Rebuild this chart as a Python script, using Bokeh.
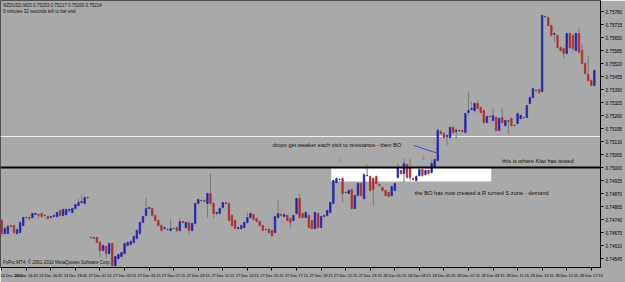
from bokeh.plotting import figure
from bokeh.models import (ColumnDataSource, FixedTicker, PrintfTickFormatter, Span,
                          Label, BoxAnnotation)
from bokeh.embed import file_html
from bokeh.resources import INLINE

# ---------------- data (NZDUSD M15) ----------------
bar_open = [
 0.74735,0.74670,0.74670,0.74710,0.74710,0.74670,0.74675,0.74710,0.74750,0.74750,
 0.74750,0.74765,0.74765,0.74770,0.74760,0.74755,0.74750,0.74755,0.74755,0.74785,
 0.74760,0.74765,0.74785,0.74775,0.74795,0.74810,0.74825,0.74820,0.74850,0.74650,
 0.74650,0.74650,0.74625,0.74585,0.74605,0.74570,0.74620,0.74510,0.74545,0.74555,
 0.74570,0.74610,0.74615,0.74625,0.74645,0.74670,0.74725,0.74760,0.74795,0.74795,
 0.74760,0.74735,0.74710,0.74695,0.74690,0.74685,0.74695,0.74700,0.74685,0.74730,
 0.74700,0.74725,0.74685,0.74720,0.74820,0.74835,0.74835,0.74820,0.74870,0.74820,
 0.74770,0.74770,0.74800,0.74825,0.74820,0.74760,0.74735,0.74695,0.74695,0.74700,
 0.74725,0.74750,0.74765,0.74745,0.74730,0.74710,0.74690,0.74690,0.74685,0.74675,
 0.74750,0.74765,0.74755,0.74760,0.74745,0.74735,0.74770,0.74845,0.74770,0.74750,
 0.74760,0.74735,0.74695,0.74770,0.74700,0.74755,0.74760,0.74775,0.74820,0.74925,
 0.74940,0.74945,0.74875,0.74870,0.74890,0.74795,0.74860,0.74920,0.74845,0.74960,
 0.74955,0.74945,0.74955,0.74915,0.74900,0.74885,0.74875,0.74860,0.74885,0.74950,
 0.74985,0.74970,0.75015,0.75000,0.74945,0.74935,0.74960,0.74990,0.74965,0.74985,
 0.74975,0.75005,0.75035,0.75180,0.75170,0.75155,0.75150,0.75200,0.75180,0.75185,
 0.75185,0.75175,0.75275,0.75290,0.75285,0.75320,0.75300,0.75285,0.75225,0.75255,
 0.75235,0.75250,0.75185,0.75250,0.75210,0.75235,0.75245,0.75210,0.75220,0.75245,
 0.75250,0.75250,0.75320,0.75350,0.75385,0.75390,0.75380,0.75755,0.75750,0.75710,
 0.75665,0.75660,0.75600,0.75595,0.75570,0.75670,0.75660,0.75585,0.75670,0.75585,
 0.75520,0.75465,0.75435,0.75410]
bar_high = [
 0.74745,0.74705,0.74715,0.74715,0.74715,0.74695,0.74730,0.74755,0.74755,0.74760,
 0.74775,0.74775,0.74770,0.74775,0.74765,0.74760,0.74760,0.74765,0.74780,0.74790,
 0.74795,0.74795,0.74795,0.74800,0.74820,0.74845,0.74865,0.74855,0.74855,0.74655,
 0.74655,0.74655,0.74635,0.74615,0.74610,0.74625,0.74625,0.74560,0.74570,0.74580,
 0.74625,0.74630,0.74635,0.74660,0.74690,0.74730,0.74760,0.74850,0.74805,0.74800,
 0.74765,0.74740,0.74715,0.74705,0.74695,0.74740,0.74700,0.74705,0.74745,0.74735,
 0.74730,0.74730,0.74725,0.74825,0.74845,0.74840,0.74840,0.74875,0.74970,0.74830,
 0.74780,0.74800,0.74830,0.74830,0.74830,0.74765,0.74740,0.74705,0.74715,0.74730,
 0.74775,0.74775,0.74770,0.74750,0.74735,0.74715,0.74695,0.74695,0.74690,0.74760,
 0.74835,0.74770,0.74770,0.74765,0.74750,0.74765,0.74850,0.74870,0.74775,0.74780,
 0.74765,0.74740,0.74780,0.74775,0.74760,0.74765,0.74790,0.74830,0.74940,0.74950,
 0.74945,0.74950,0.74880,0.74890,0.74895,0.74865,0.74925,0.74925,0.74970,0.75015,
 0.74960,0.74950,0.74960,0.74920,0.74905,0.74890,0.74880,0.74910,0.74925,0.75020,
 0.74990,0.75045,0.75020,0.75045,0.74950,0.74960,0.74995,0.74995,0.74990,0.74990,
 0.75040,0.75045,0.75200,0.75185,0.75175,0.75165,0.75205,0.75205,0.75195,0.75190,
 0.75190,0.75275,0.75380,0.75330,0.75325,0.75335,0.75305,0.75290,0.75260,0.75260,
 0.75295,0.75255,0.75250,0.75295,0.75240,0.75240,0.75250,0.75215,0.75275,0.75265,
 0.75255,0.75315,0.75355,0.75400,0.75390,0.75395,0.75765,0.75760,0.75755,0.75715,
 0.75675,0.75665,0.75605,0.75600,0.75675,0.75675,0.75665,0.75675,0.75700,0.75620,
 0.75525,0.75560,0.75440,0.75490]
bar_low = [
 0.74655,0.74660,0.74665,0.74700,0.74670,0.74665,0.74670,0.74705,0.74745,0.74735,
 0.74745,0.74760,0.74745,0.74750,0.74755,0.74740,0.74745,0.74750,0.74750,0.74755,
 0.74755,0.74760,0.74775,0.74770,0.74790,0.74805,0.74820,0.74815,0.74845,0.74645,
 0.74645,0.74620,0.74550,0.74580,0.74545,0.74565,0.74500,0.74505,0.74540,0.74550,
 0.74565,0.74605,0.74610,0.74620,0.74640,0.74665,0.74720,0.74755,0.74790,0.74755,
 0.74730,0.74705,0.74680,0.74690,0.74685,0.74680,0.74690,0.74675,0.74680,0.74720,
 0.74695,0.74665,0.74680,0.74715,0.74815,0.74830,0.74825,0.74750,0.74810,0.74745,
 0.74760,0.74765,0.74795,0.74815,0.74730,0.74705,0.74690,0.74690,0.74685,0.74695,
 0.74720,0.74745,0.74735,0.74725,0.74705,0.74680,0.74685,0.74670,0.74650,0.74670,
 0.74745,0.74755,0.74750,0.74730,0.74695,0.74730,0.74765,0.74745,0.74745,0.74745,
 0.74695,0.74690,0.74690,0.74695,0.74695,0.74750,0.74755,0.74770,0.74815,0.74920,
 0.74935,0.74825,0.74870,0.74865,0.74790,0.74790,0.74855,0.74855,0.74840,0.74955,
 0.74880,0.74810,0.74915,0.74905,0.74880,0.74855,0.74850,0.74855,0.74880,0.74945,
 0.74965,0.74925,0.74945,0.74935,0.74935,0.74930,0.74955,0.74955,0.74960,0.74965,
 0.74970,0.75000,0.75030,0.75165,0.75145,0.75110,0.75145,0.75170,0.75145,0.75180,
 0.75175,0.75170,0.75260,0.75285,0.75275,0.75290,0.75270,0.75215,0.75220,0.75250,
 0.75230,0.75180,0.75180,0.75220,0.75205,0.75170,0.75205,0.75205,0.75215,0.75240,
 0.75245,0.75245,0.75315,0.75345,0.75380,0.75370,0.75375,0.75745,0.75705,0.75655,
 0.75625,0.75595,0.75580,0.75545,0.75565,0.75595,0.75575,0.75580,0.75570,0.75515,
 0.75465,0.75430,0.75405,0.75405]
bar_close = [
 0.74670,0.74695,0.74705,0.74705,0.74675,0.74690,0.74725,0.74750,0.74750,0.74745,
 0.74770,0.74770,0.74760,0.74755,0.74760,0.74745,0.74755,0.74760,0.74775,0.74760,
 0.74790,0.74790,0.74790,0.74795,0.74815,0.74825,0.74830,0.74850,0.74850,0.74650,
 0.74645,0.74625,0.74585,0.74610,0.74570,0.74620,0.74510,0.74555,0.74565,0.74575,
 0.74620,0.74625,0.74630,0.74655,0.74685,0.74725,0.74755,0.74795,0.74800,0.74760,
 0.74735,0.74710,0.74685,0.74700,0.74690,0.74695,0.74695,0.74685,0.74730,0.74725,
 0.74725,0.74685,0.74720,0.74820,0.74840,0.74835,0.74830,0.74870,0.74820,0.74770,
 0.74775,0.74795,0.74825,0.74820,0.74735,0.74710,0.74695,0.74700,0.74710,0.74725,
 0.74750,0.74770,0.74740,0.74730,0.74710,0.74685,0.74690,0.74675,0.74660,0.74755,
 0.74770,0.74760,0.74765,0.74735,0.74725,0.74760,0.74845,0.74750,0.74750,0.74775,
 0.74700,0.74695,0.74775,0.74700,0.74755,0.74760,0.74785,0.74825,0.74935,0.74945,
 0.74940,0.74870,0.74875,0.74885,0.74795,0.74860,0.74920,0.74860,0.74965,0.74960,
 0.74885,0.74890,0.74920,0.74910,0.74885,0.74860,0.74855,0.74905,0.74920,0.75000,
 0.74970,0.75020,0.74950,0.74950,0.74940,0.74955,0.74990,0.74960,0.74985,0.74970,
 0.75020,0.75040,0.75185,0.75170,0.75150,0.75160,0.75200,0.75175,0.75185,0.75185,
 0.75180,0.75270,0.75285,0.75295,0.75320,0.75295,0.75275,0.75225,0.75255,0.75255,
 0.75260,0.75185,0.75245,0.75225,0.75235,0.75230,0.75210,0.75210,0.75270,0.75260,
 0.75250,0.75310,0.75350,0.75395,0.75385,0.75375,0.75760,0.75755,0.75710,0.75660,
 0.75670,0.75600,0.75585,0.75570,0.75670,0.75600,0.75595,0.75670,0.75575,0.75520,
 0.75470,0.75435,0.75410,0.75485]

time_tick_bars = [0, 8, 16, 24, 32, 40, 48, 56, 64, 72, 80, 88, 96, 104, 112, 120,
                  128, 136, 144, 152, 160, 168, 176, 184, 192]
time_tick_labels = ["24 Dec 2010", "24 Dec 14:45", "24 Dec 16:45", "24 Dec 18:45",
                    "27 Dec 01:15", "27 Dec 03:15", "27 Dec 05:15", "27 Dec 07:15",
                    "27 Dec 09:15", "27 Dec 11:15", "27 Dec 13:15", "27 Dec 15:15",
                    "27 Dec 17:15", "27 Dec 19:15", "27 Dec 21:15", "27 Dec 23:15",
                    "28 Dec 01:15", "28 Dec 03:15", "28 Dec 05:15", "28 Dec 07:15",
                    "28 Dec 09:15", "28 Dec 11:15", "28 Dec 13:15", "28 Dec 15:15",
                    "28 Dec 17:15"]
price_ticks = [0.74545, 0.74610, 0.74675, 0.74740, 0.74805, 0.74870, 0.74935,
               0.75000, 0.75065, 0.75130, 0.75195, 0.75260, 0.75325, 0.75390,
               0.75455, 0.75520, 0.75585, 0.75650, 0.75715, 0.75780]

resistance_level = 0.75000
upper_line_level = 0.75155
zone_top, zone_bottom = 0.75000, 0.74930
zone_start_bar, zone_end_bar = 107.3, 159.4

header_line1 = "NZDUSD,M15  0.75203 0.75217 0.75200 0.75214"
header_line2 = "9 minutes 32 seconds left to bar end"
copyright_text = "FxPro MT4, \u00a9 2001-2010 MetaQuotes Software Corp."
note_drops = "drops get weaker each visit to resistance - then BO"
note_kiwi = "this is where Kiwi has tested"
note_bo = "the BO has now created a R turned S zone - demand"

# ---------------- styling ----------------
BG = "#a9a9a9"
BULL = "#2424b0"
BEAR = "#b03030"
DOJI = "#303030"
WICK = "#7a7a7a"
FONT = "Liberation Sans"

idx = list(range(len(bar_open)))
colors, tops, bottoms = [], [], []
for o, c in zip(bar_open, bar_close):
    if c > o:
        colors.append(BULL)
    elif c < o:
        colors.append(BEAR)
    else:
        colors.append(DOJI)
    tops.append(max(o, c))
    bottoms.append(min(o, c))

src = ColumnDataSource(dict(x=idx, h=bar_high, l=bar_low, top=tops, bottom=bottoms, color=colors))

p = figure(width=625, height=282, output_backend="svg", toolbar_location=None,
           x_range=(-0.4, 195.0), y_range=(0.74500, 0.75835),
           y_axis_location="right", min_border_left=0, min_border_top=0,
           min_border_bottom=15, min_border_right=0)
p.background_fill_color = BG
p.border_fill_color = BG
p.grid.visible = False
p.outline_line_color = "#505050"

# demand zone box
p.add_layout(BoxAnnotation(left=zone_start_bar, right=zone_end_bar, bottom=zone_bottom, top=zone_top,
                           fill_color="white", fill_alpha=1.0, line_color=None, level="underlay"))

p.add_layout(Span(location=upper_line_level, dimension="width", line_color="#f2f2f2", line_width=1,
                  level="underlay"))

p.segment(x0="x", y0="h", x1="x", y1="l", source=src, line_color=WICK, line_width=1)
p.vbar(x="x", width=0.5, top="top", bottom="bottom", fill_color="color", line_color="color",
       line_width=0.7, source=src)

p.add_layout(Span(location=resistance_level, dimension="width", line_color="black", line_width=2))

# annotations
def note(x, y, text, size="5.7px", color="#111111", baseline="middle", font=FONT):
    p.add_layout(Label(x=x, y=y, text=text, text_font=font, text_font_size=size,
                       text_color=color, text_baseline=baseline))

note(88.2, 0.75115, note_drops)
note(163.0, 0.75035, note_kiwi)
note(134.5, 0.74875, note_bo)
note(0.4, 0.75825, header_line1, size="4.5px", baseline="top")
note(0.4, 0.75795, header_line2, size="4.5px", baseline="top")
note(0.4, 0.74525, copyright_text, size="4.5px")
note(109.3, 0.75040, "\u21e9", size="6px", color="#d04848", font="DejaVu Sans")
note(136.5, 0.75050, "\u21e9", size="6px", color="#d04848", font="DejaVu Sans")

p.line(x=[134.2, 142.2], y=[0.75110, 0.75070], line_color="#4a4ac0", line_width=1)

# axes
p.xaxis.ticker = FixedTicker(ticks=time_tick_bars)
p.xaxis.major_label_overrides = {b: t for b, t in zip(time_tick_bars, time_tick_labels)}
p.xaxis.major_label_text_align = "left"
p.xaxis.major_label_text_font = FONT
p.xaxis.major_label_text_font_size = "3.9px"
p.xaxis.major_label_text_color = "black"
p.xaxis.major_label_standoff = 2
p.xaxis.major_tick_in = 0
p.xaxis.major_tick_out = 3
p.xaxis.minor_tick_line_color = None
p.xaxis.axis_line_color = "black"
p.xaxis.major_tick_line_color = "black"

p.yaxis.ticker = FixedTicker(ticks=price_ticks)
p.yaxis.formatter = PrintfTickFormatter(format="%.5f")
p.yaxis.major_label_text_font = FONT
p.yaxis.major_label_text_font_size = "4.6px"
p.yaxis.major_label_text_color = "black"
p.yaxis.major_label_standoff = 2
p.yaxis.major_tick_in = 0
p.yaxis.major_tick_out = 3
p.yaxis.minor_tick_line_color = None
p.yaxis.axis_line_color = "black"
p.yaxis.major_tick_line_color = "black"

# highlighted price labels on the axis
for lvl in (upper_line_level, resistance_level):
    p.add_layout(Label(x=195.0, y=lvl, x_offset=3, text="%.5f" % lvl, text_font=FONT,
                       text_font_size="4.6px", text_color="white", text_baseline="middle",
                       background_fill_color="black", background_fill_alpha=1.0))

open("out.html", "w").write(file_html(p, INLINE))
